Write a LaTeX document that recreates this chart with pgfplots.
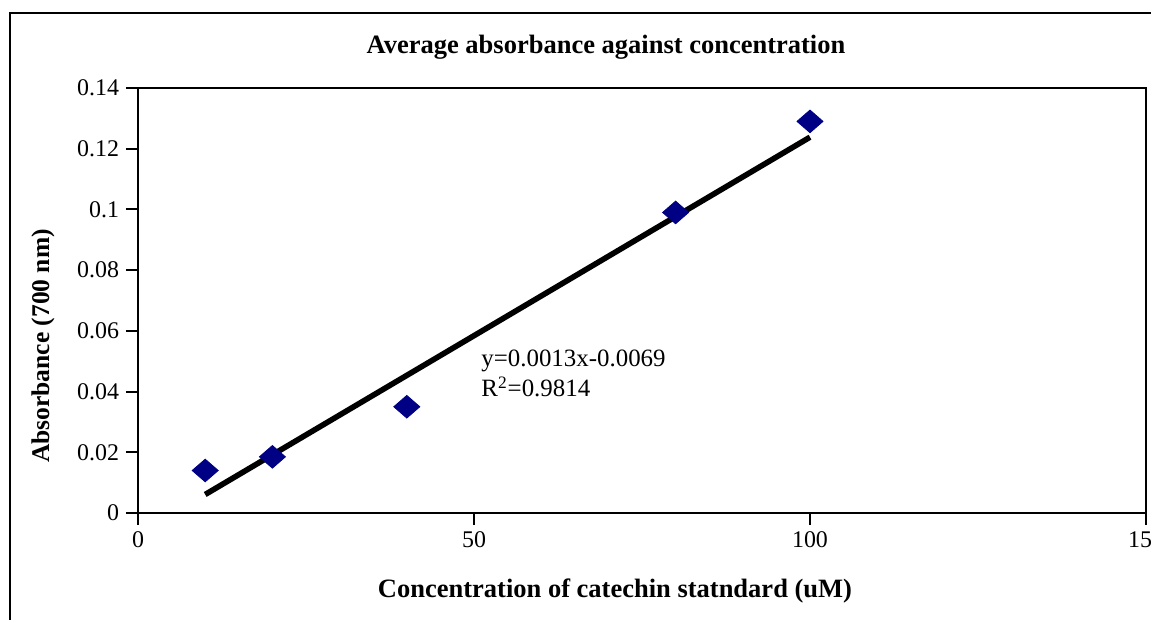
\documentclass[border=0pt]{standalone}
\usepackage{pgfplots}
\pgfplotsset{compat=1.18}
\usepackage{fontspec}
\setmainfont{Liberation Serif}
\definecolor{navy}{HTML}{000085}
\begin{document}
\begin{tikzpicture}
\useasboundingbox (0,0) rectangle (575.5bp,310bp);
\draw[line width=1bp] (5bp,-20bp) rectangle (600bp,303.5bp);
\begin{axis}[
  at={(69bp,53.5bp)}, anchor=south west,
  scale only axis, width=504bp, height=212.5bp,
  xmin=0, xmax=150, ymin=0, ymax=0.14,
  xtick={0,50,100,150},
  ytick={0,0.02,0.04,0.06,0.08,0.1,0.12,0.14},
  axis line style={line width=1bp},
  tick style={line width=1bp, black},
  tick align=outside, major tick length=6bp,
  xtick pos=left, ytick pos=left,
  scaled y ticks=false,
  yticklabel style={/pgf/number format/fixed, /pgf/number format/precision=2},
  /pgf/number format/assume math mode=true,
  ticklabel style={font=\fontsize{12}{14}\selectfont},
]
\addplot[only marks, mark=square*, mark size=4bp, mark options={xscale=1.15, rotate=45, fill=navy, draw=navy}]
  coordinates {(10,0.014) (20,0.0185) (40,0.035) (80,0.099) (100,0.129)};
\addplot[black, line width=2.8bp] coordinates {(10,0.0061) (100,0.1238)};
\end{axis}
\node[font=\fontsize{13.3}{15}\selectfont\bfseries] at (303bp,286.5bp) {Average absorbance against concentration};
\node[font=\fontsize{13.3}{15}\selectfont\bfseries] at (307.5bp,14.5bp) {Concentration of catechin statndard (uM)};
\node[font=\fontsize{12.8}{15}\selectfont\bfseries, rotate=90] at (21.5bp,137bp) {Absorbance (700 nm)};
\node[font=\fontsize{12.5}{15}\selectfont, anchor=base west, inner sep=0pt] at (240.5bp,126.5bp) {y=0.0013x-0.0069};
\node[font=\fontsize{12.5}{15}\selectfont, anchor=base west, inner sep=0pt] at (240.5bp,111.5bp) {R\textsuperscript{2}=0.9814};
\end{tikzpicture}
\end{document}
